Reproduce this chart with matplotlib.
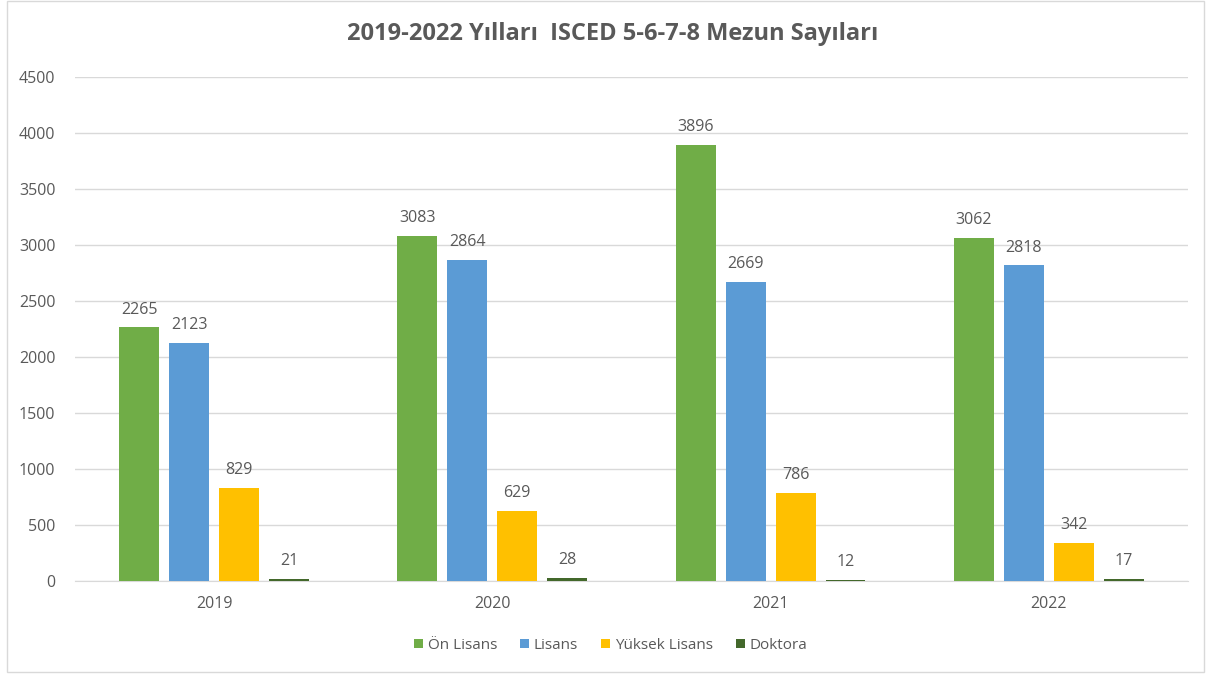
import numpy as np
import matplotlib.pyplot as plt
from matplotlib.patches import Rectangle

#%% Data

years = ['2019', '2020', '2021', '2022']
series_names = ['Ön Lisans', 'Lisans', 'Yüksek Lisans', 'Doktora']
on_lisans = [2265, 3083, 3896, 3062]
lisans = [2123, 2864, 2669, 2818]
yuksek_lisans = [829, 629, 786, 342]
doktora = [21, 28, 12, 17]
yticks = [0, 500, 1000, 1500, 2000, 2500, 3000, 3500, 4000, 4500]

colors = ['#70AD47', '#5B9BD5', '#FFC000', '#43682B']
text_gray = '#595959'

#%% Plot

plt.rcParams['font.family'] = ['Open Sans', 'DejaVu Sans']

fig = plt.figure(figsize=(12.09, 6.75), dpi=100)
ax = fig.add_axes([0.062, 0.1393, 0.9206, 0.7467])

x = np.arange(len(years))
step = 0.1795
width = 0.1436
all_series = [on_lisans, lisans, yuksek_lisans, doktora]
for i, (vals, name, c) in enumerate(zip(all_series, series_names, colors)):
    pos = x + (i - 1.5) * step
    ax.bar(pos, vals, width=width, color=c, label=name, zorder=3)
    for xp, v in zip(pos, vals):
        ax.annotate(str(v), (xp, v), xytext=(0, 7), textcoords='offset points',
                    ha='center', va='bottom', fontsize=11.5, color=text_gray)

ax.set_xlim(-0.5, 3.5)
ax.set_ylim(0, 4500)
ax.set_yticks(yticks)
ax.set_xticks(x)
ax.set_xticklabels(years)
ax.tick_params(axis='both', length=0, labelsize=11.5, labelcolor=text_gray)
ax.tick_params(axis='y', pad=14)
ax.tick_params(axis='x', pad=11)
ax.grid(axis='y', color='#D9D9D9', linewidth=1, zorder=0)
for s in ['top', 'right', 'left']:
    ax.spines[s].set_visible(False)
ax.spines['bottom'].set_color('#D9D9D9')

fig.suptitle('2019-2022 Yılları  ISCED 5-6-7-8 Mezun Sayıları', x=0.507, y=0.968,
             fontsize=17, fontweight='bold', color=text_gray)

leg = fig.legend(loc='center', bbox_to_anchor=(0.505, 0.044), ncol=4, frameon=False,
                 fontsize=11, handlelength=0.6, handleheight=0.6, handletextpad=0.3,
                 columnspacing=1.5)
for t in leg.get_texts():
    t.set_color(text_gray)

# chart border
fig.patches.append(Rectangle((0.006, 0.004), 0.99, 0.994, transform=fig.transFigure,
                             fill=False, edgecolor='#D9D9D9', linewidth=1))

fig.savefig('out.png', dpi=100)
